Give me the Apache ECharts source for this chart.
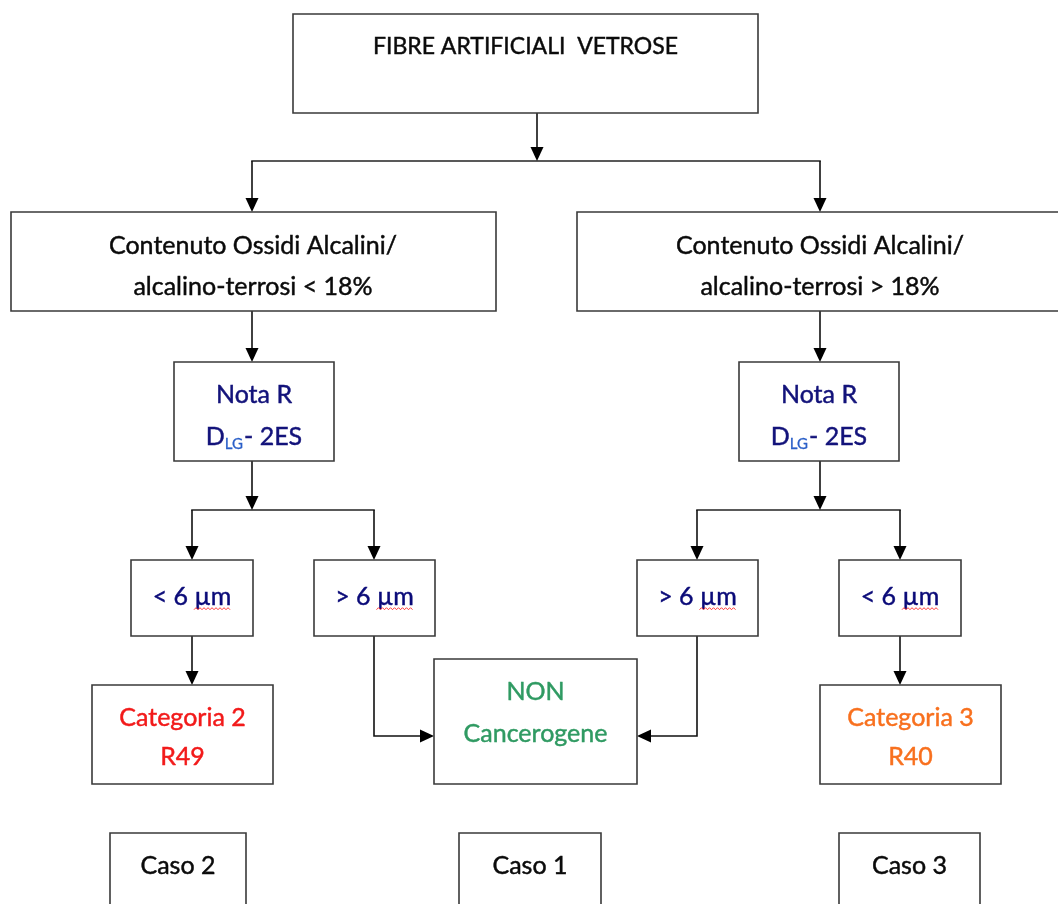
<!DOCTYPE html>
<html>
<head>
<meta charset="utf-8">
<script src="https://cdn.jsdelivr.net/npm/echarts@6/dist/echarts.min.js"></script>
<style>
html,body{margin:0;padding:0;background:#fff;}
#chart{width:1058px;height:904px;}
</style>
</head>
<body>
<div id="chart"></div>
<script>
// ---- content (flowchart nodes) ----
const nodeIds = ['root','alkLow','alkHigh','notaL','notaR','lt6L','gt6L','gt6R','lt6R','cat2','non','cat3','caso2','caso1','caso3'];
// a line given as an array = [main, subscript, main] pieces
const nodeLines = [
  ['FIBRE ARTIFICIALI  VETROSE'],
  ['Contenuto Ossidi Alcalini/', 'alcalino-terrosi < 18%'],
  ['Contenuto Ossidi Alcalini/', 'alcalino-terrosi > 18%'],
  ['Nota R', ['D', 'LG', '- 2ES']],
  ['Nota R', ['D', 'LG', '- 2ES']],
  ['< 6 µm'],
  ['> 6 µm'],
  ['> 6 µm'],
  ['< 6 µm'],
  ['Categoria 2', 'R49'],
  ['NON', 'Cancerogene'],
  ['Categoria 3', 'R40'],
  ['Caso 2'],
  ['Caso 1'],
  ['Caso 3']
];
const nodeKind = ['title','plain','plain','nota','nota','size','size','size','size','cat2','non','cat3','plain','plain','plain'];
// links: from -> to (junctions named j*)
const links = [
  ['root','j1'],['j1','alkLow'],['j1','alkHigh'],
  ['alkLow','notaL'],['alkHigh','notaR'],
  ['notaL','j2'],['j2','lt6L'],['j2','gt6L'],
  ['notaR','j3'],['j3','gt6R'],['j3','lt6R'],
  ['lt6L','cat2'],['gt6L','non'],['gt6R','non'],['lt6R','cat3']
];

// ---- layout (pixel space of the figure) ----
const layout = {
  root:   {box:[293,14,758,113], ty:[47]},
  alkLow: {box:[11,212,496,311], ty:[246,287], cx:253},
  alkHigh:{box:[577,212,1075,311], ty:[246,287], cx:820},
  notaL:  {box:[174,362,334,461], ty:[395,437]},
  notaR:  {box:[739,362,899,461], ty:[395,437]},
  lt6L:   {box:[131,560,253,636], ty:[597]},
  gt6L:   {box:[314,560,435,636], ty:[597]},
  gt6R:   {box:[637,560,758,636], ty:[597]},
  lt6R:   {box:[839,560,961,636], ty:[597]},
  cat2:   {box:[92,685,273,784], ty:[718,757]},
  non:    {box:[434,659,637,784], ty:[692,734]},
  cat3:   {box:[820,685,1001,784], ty:[718,757]},
  caso2:  {box:[110,833,246,915], ty:[866]},
  caso1:  {box:[459,833,601,915], ty:[866]},
  caso3:  {box:[839,833,980,915], ty:[866]}
};
const routes = [
  [[537,113],[537,161]],
  [[252,161],[252,212]], [[820,161],[820,212]],
  [[252,311],[252,362]], [[820,311],[820,362]],
  [[252,461],[252,510]], [[192,510],[192,560]], [[374,510],[374,560]],
  [[820,461],[820,510]], [[697,510],[697,560]], [[900,510],[900,560]],
  [[192,636],[192,685]], [[374,636],[374,736],[434,736]], [[697,636],[697,736],[637,736]], [[900,636],[900,685]]
];
const barsH = [ [[252,161],[820,161]], [[192,510],[374,510]], [[697,510],[900,510]] ];

const FONT = "Lato, 'Open Sans', sans-serif";
const SUB_SIZE = 15, SUB_DROP = 7, SUB_COLOR = '#2a5fc8';
const kindStyle = {
  title:{color:'#0a0a0a', size:23},
  plain:{color:'#0a0a0a', size:25},
  nota:{color:'#12127a', size:25},
  size:{color:'#0a0a78', size:25},
  cat2:{color:'#f21a1a', size:25},
  non:{color:'#2f9a62', size:25},
  cat3:{color:'#f8701e', size:25}
};

const measureCtx = document.createElement('canvas').getContext('2d');
function textW(t, size){ measureCtx.font = size + 'px ' + FONT; return measureCtx.measureText(t).width; }

function txt(x, y, t, color, size, align){
  return {
    type:'text', x:x, y:y,
    style:{text:t, fill:color, font:size+'px '+FONT, stroke:color, lineWidth:0.45,
           align:align || 'center', verticalAlign:'middle'}
  };
}

function renderNode(params, api){
  const i = api.value(0);
  const id = nodeIds[i];
  const L = layout[id];
  const p0 = api.coord([L.box[0], L.box[1]]);
  const p1 = api.coord([L.box[2], L.box[3]]);
  const st = kindStyle[nodeKind[i]];
  const cxv = L.cx !== undefined ? L.cx : (L.box[0]+L.box[2])/2;
  const children = [{
    type:'rect',
    shape:{x:p0[0], y:p0[1], width:p1[0]-p0[0], height:p1[1]-p0[1]},
    style:{fill:'#ffffff', stroke:'#3a3a3a', lineWidth:1.6}
  }];
  nodeLines[i].forEach((t, k) => {
    const c = api.coord([cxv, L.ty[k]]);
    if (Array.isArray(t)) {
      const w0 = textW(t[0], st.size), w1 = textW(t[1], SUB_SIZE) + 1, w2 = textW(t[2], st.size);
      let x = c[0] - (w0 + w1 + w2) / 2;
      children.push(txt(x, c[1], t[0], st.color, st.size, 'left'));
      x += w0;
      const sub = txt(x, c[1] + SUB_DROP, t[1], SUB_COLOR, SUB_SIZE, 'left');
      sub.style.lineWidth = 0.3;
      children.push(sub);
      x += w1;
      children.push(txt(x, c[1], t[2], st.color, st.size, 'left'));
    } else {
      children.push(txt(c[0], c[1], t, st.color, st.size));
    }
  });
  if (nodeKind[i] === 'size') {
    const pts = [];
    const base = api.coord([cxv+2, L.ty[0]+12]);
    for (let k = 0; k <= 18; k++) pts.push([base[0] + k*2, base[1] + (k%2 ? -1.3 : 0.7)]);
    children.push({type:'polyline', shape:{points:pts}, style:{stroke:'#ff2020', lineWidth:0.9, fill:null}});
  }
  return {type:'group', children};
}

function renderRoute(params, api){
  const i = api.value(0);
  const r = routes[i];
  const pts = r.map(p => api.coord(p));
  const end = pts[pts.length-1], prev = pts[pts.length-2];
  const dx = end[0]-prev[0], dy = end[1]-prev[1];
  const len = Math.sqrt(dx*dx+dy*dy);
  const ux = dx/len, uy = dy/len;
  const hl = 14, hw = 6.5;
  const bx = end[0]-ux*hl, by = end[1]-uy*hl;
  const lp = pts.slice(0,-1).concat([[bx+ux*2, by+uy*2]]);
  return {type:'group', children:[
    {type:'polyline', shape:{points:lp}, style:{stroke:'#111', lineWidth:1.6, fill:null}},
    {type:'polygon', shape:{points:[end,[bx-uy*hw, by+ux*hw],[bx+uy*hw, by-ux*hw]]}, style:{fill:'#000'}}
  ]};
}

function renderBar(params, api){
  const r = barsH[api.value(0)];
  const a = api.coord(r[0]), b = api.coord(r[1]);
  return {type:'line', shape:{x1:a[0]-0.8, y1:a[1], x2:b[0]+0.8, y2:b[1]}, style:{stroke:'#222', lineWidth:1.6}};
}

const chart = echarts.init(document.getElementById('chart'), null, {renderer:'canvas'});
chart.setOption({
  backgroundColor:'#ffffff',
  animation:false,
  grid:{left:0, right:0, top:0, bottom:0},
  xAxis:{type:'value', min:0, max:1058, show:false},
  yAxis:{type:'value', min:0, max:904, inverse:true, show:false},
  series:[
    {type:'custom', name:'bars', renderItem:renderBar, data:barsH.map((_,i)=>[i]), silent:true, clip:false},
    {type:'custom', name:'links', renderItem:renderRoute, data:routes.map((_,i)=>[i]), silent:true, clip:false},
    {type:'custom', name:'nodes', renderItem:renderNode, data:nodeIds.map((_,i)=>[i]), silent:true, clip:false}
  ]
});
</script>
</body>
</html>
